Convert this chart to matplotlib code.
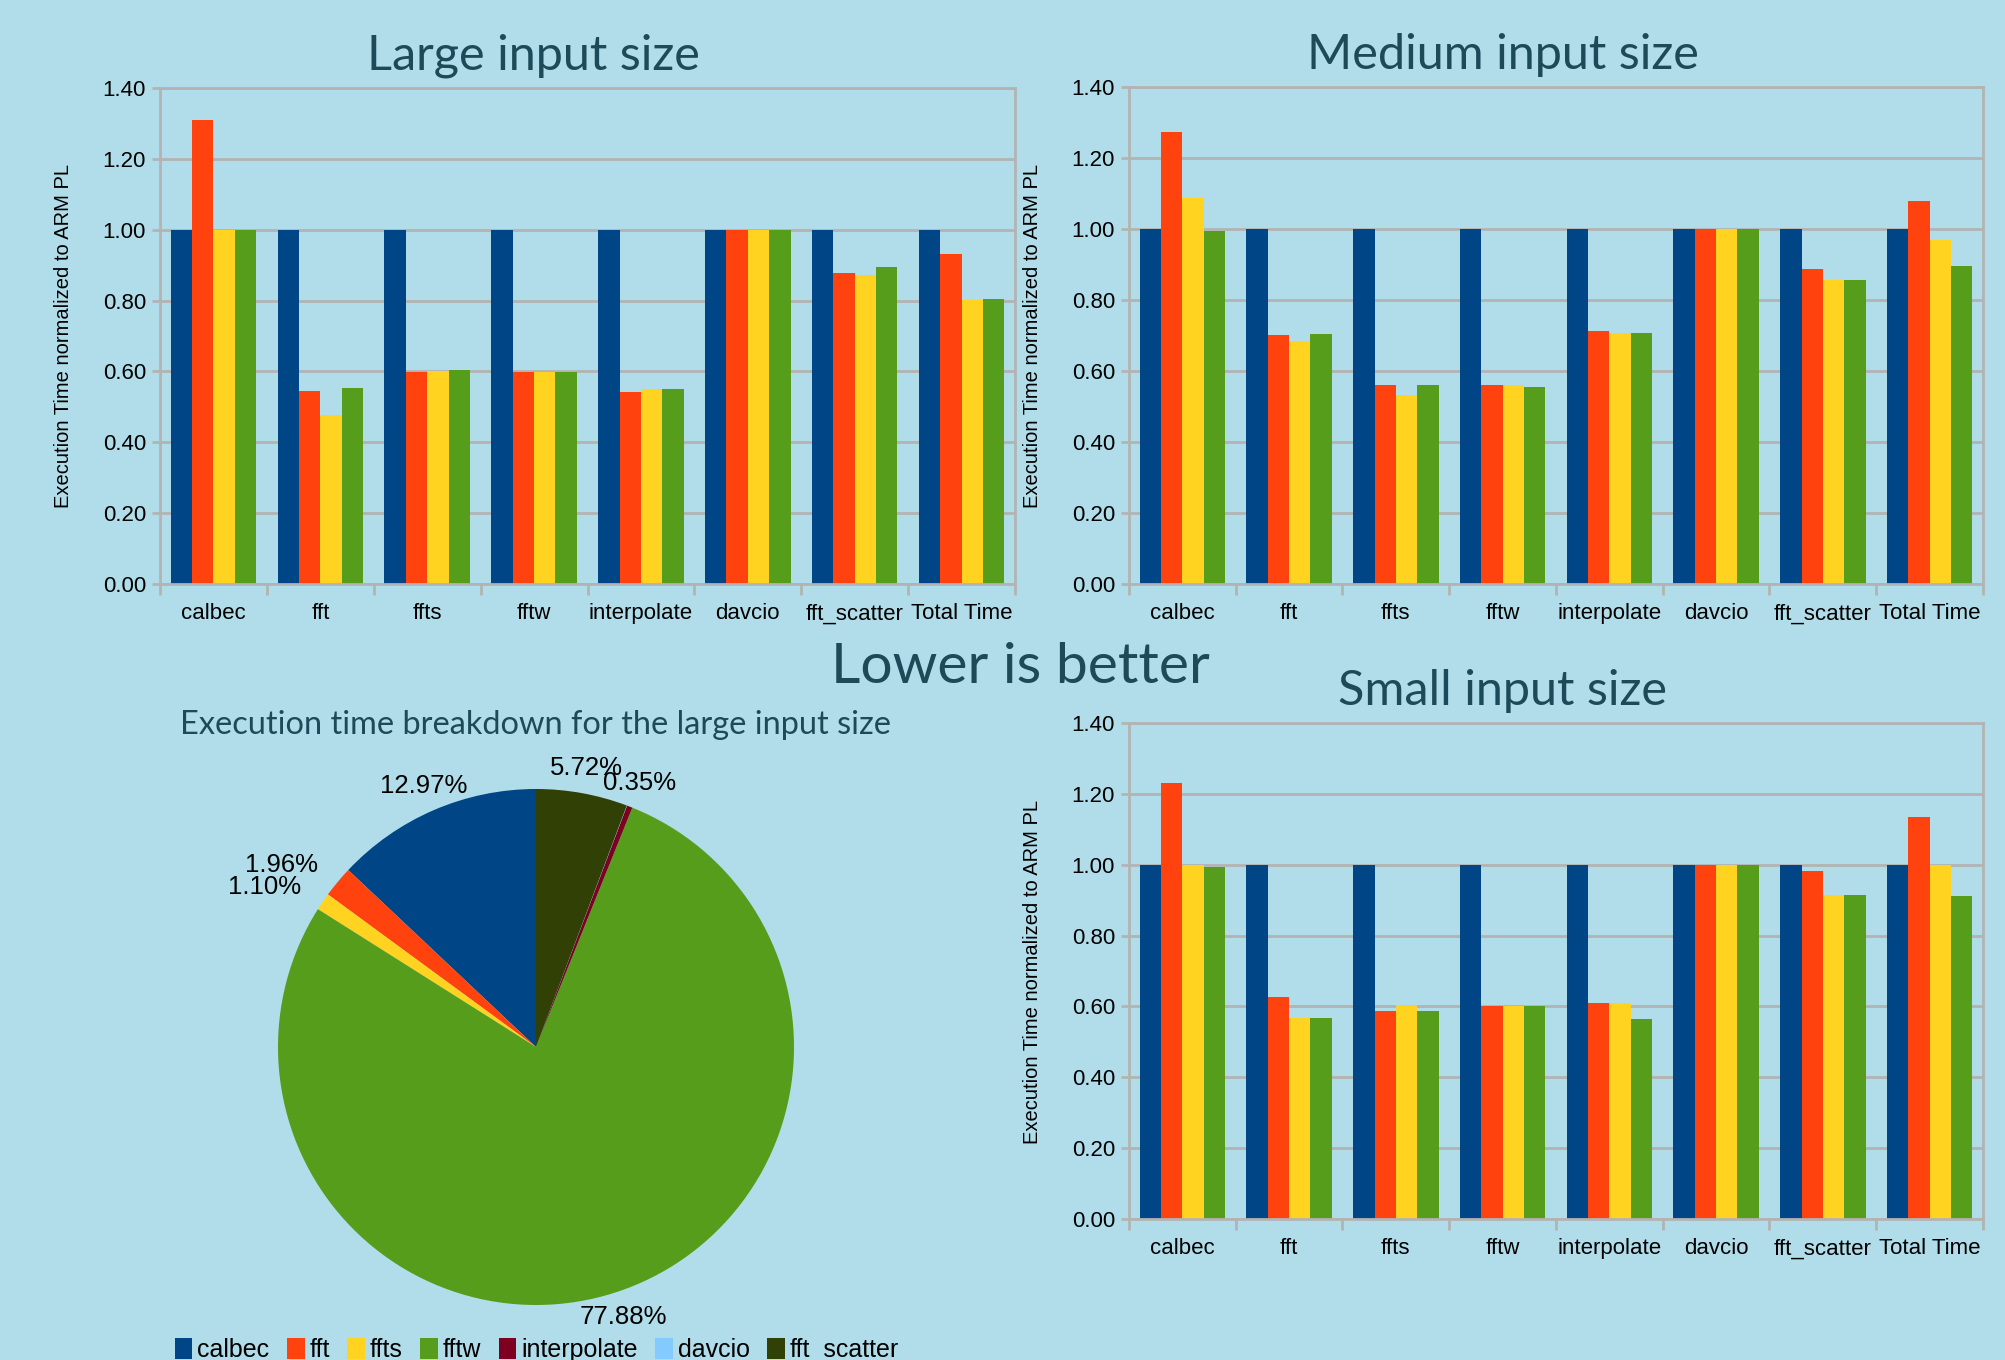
import numpy as np
import matplotlib.pyplot as plt
from matplotlib.ticker import FormatStrFormatter

categories = ["calbec", "fft", "ffts", "fftw", "interpolate", "davcio", "fft_scatter", "Total Time"]

# execution time normalized to ARM PL, four library builds per input size
large_armpl = [1.00, 1.00, 1.00, 1.00, 1.00, 1.00, 1.00, 1.00]
large_lib2 = [1.309, 0.545, 0.597, 0.597, 0.543, 1.00, 0.878, 0.932]
large_lib3 = [0.998, 0.477, 0.600, 0.599, 0.549, 1.00, 0.871, 0.802]
large_lib4 = [1.00, 0.553, 0.605, 0.597, 0.549, 1.00, 0.895, 0.804]

medium_armpl = [1.00, 1.00, 1.00, 1.00, 1.00, 1.00, 1.00, 1.00]
medium_lib2 = [1.274, 0.701, 0.561, 0.561, 0.713, 1.00, 0.888, 1.080]
medium_lib3 = [1.088, 0.685, 0.531, 0.561, 0.708, 1.00, 0.857, 0.969]
medium_lib4 = [0.995, 0.705, 0.561, 0.555, 0.707, 1.00, 0.857, 0.896]

small_armpl = [1.00, 1.00, 1.00, 1.00, 1.00, 1.00, 1.00, 1.00]
small_lib2 = [1.232, 0.627, 0.588, 0.601, 0.611, 1.00, 0.981, 1.135]
small_lib3 = [0.998, 0.568, 0.605, 0.601, 0.611, 1.00, 0.915, 0.998]
small_lib4 = [0.994, 0.568, 0.588, 0.601, 0.565, 1.00, 0.915, 0.913]

# share of total run time, large input
pie_labels = ["calbec", "fft", "ffts", "fftw", "interpolate", "davcio", "fft_scatter"]
pie_share = [12.97, 1.96, 1.10, 77.88, 0.35, 0.02, 5.72]

BG = "#b0dde9"
TITLE_C = "#1d4a58"
GRID = "#b3b3b3"
bar_colors = ["#004586", "#ff420e", "#ffd320", "#579d1c"]
pie_colors = ["#004586", "#ff420e", "#ffd320", "#579d1c", "#7e0021", "#83caff", "#314004"]

NARROW = ["Liberation Sans Narrow", "Liberation Sans", "DejaVu Sans"]
TITLE_FONT = ["Lato", "DejaVu Sans"]

W, H = 2006, 1360
fig = plt.figure(figsize=(W / 100, H / 100), dpi=100, facecolor=BG)


def px_axes(left, top, right, bottom):
    return fig.add_axes([left / W, 1 - bottom / H, (right - left) / W, (bottom - top) / H])


def bar_panel(ax, series):
    x = np.arange(len(categories)) + 0.5
    width = 0.2
    for k, (vals, c) in enumerate(zip(series, bar_colors)):
        ax.bar(x + (k - 1.5) * width, vals, width, color=c, linewidth=0, zorder=2)
    ax.set_facecolor(BG)
    ax.set_xlim(0, len(categories))
    ax.set_ylim(0, 1.4)
    ax.set_yticks(np.arange(0, 1.41, 0.2))
    ax.yaxis.set_major_formatter(FormatStrFormatter("%.2f"))
    ax.grid(axis="y", color=GRID, linewidth=2, zorder=1)
    ax.set_axisbelow(True)
    ax.set_xticks(np.arange(len(categories) + 1))
    ax.set_xticklabels([])
    ax.set_xticks(x, minor=True)
    ax.set_xticklabels(categories, minor=True, family=NARROW, fontsize=16)
    ax.tick_params(axis="x", which="minor", length=0, pad=14)
    ax.tick_params(axis="x", which="major", length=8, width=2, color=GRID)
    ax.tick_params(axis="y", length=6, width=2, color=GRID, pad=4)
    for lab in ax.get_yticklabels():
        lab.set_family(NARROW)
        lab.set_fontsize(16)
    for sp in ax.spines.values():
        sp.set_color(GRID)
        sp.set_linewidth(2)


ax_l = px_axes(160, 88, 1015, 584)
bar_panel(ax_l, [large_armpl, large_lib2, large_lib3, large_lib4])
ax_m = px_axes(1129, 87, 1983, 584)
bar_panel(ax_m, [medium_armpl, medium_lib2, medium_lib3, medium_lib4])
ax_s = px_axes(1129, 723, 1983, 1219)
bar_panel(ax_s, [small_armpl, small_lib2, small_lib3, small_lib4])

ylab = "Execution Time normalized to ARM PL"
for xpx, ypx in [(64, 336), (1032, 336), (1032, 972)]:
    fig.text(xpx / W, 1 - ypx / H, ylab, rotation=90, ha="center", va="center",
             family=["Liberation Sans", "DejaVu Sans"], fontsize=14.5)

# pie of the large-input breakdown
ax_p = px_axes(278, 789, 794, 1305)
wedges, _ = ax_p.pie(pie_share, colors=pie_colors, startangle=90, counterclock=True,
                     wedgeprops=dict(linewidth=0))
ax_p.set_xlim(-1, 1)
ax_p.set_ylim(-1, 1)
for w, v in zip(wedges, pie_share):
    if v < 0.1:
        continue
    ang = np.deg2rad((w.theta1 + w.theta2) / 2)
    c, s = np.cos(ang), np.sin(ang)
    ha = "center" if abs(c) < 0.4 else ("left" if c > 0 else "right")
    ax_p.text(1.1 * c, 1.1 * s, f"{v:.2f}%", ha=ha, va="center", fontsize=18.5,
              family=NARROW, clip_on=False)

fig.legend(wedges, pie_labels, loc="center", bbox_to_anchor=(537 / W, 1 - 1350 / H),
           ncol=7, frameon=False, handlelength=0.7, handleheight=0.9, handletextpad=0.2,
           columnspacing=0.7, prop=dict(family=NARROW, size=18))

# titles
fig.text(533 / W, 1 - 69 / H, "Large input size", ha="center", va="baseline",
         family=TITLE_FONT, fontsize=35, color=TITLE_C)
fig.text(1503 / W, 1 - 69 / H, "Medium input size", ha="center", va="baseline",
         family=TITLE_FONT, fontsize=35, color=TITLE_C)
fig.text(1503 / W, 1 - 705 / H, "Small input size", ha="center", va="baseline",
         family=TITLE_FONT, fontsize=35, color=TITLE_C)
fig.text(1020 / W, 1 - 683 / H, "Lower is better", ha="center", va="baseline",
         family=TITLE_FONT, fontsize=41, color=TITLE_C)
fig.text(536 / W, 1 - 734 / H, "Execution time breakdown for the large input size",
         ha="center", va="baseline", family=TITLE_FONT, fontsize=23.4, color=TITLE_C)

fig.savefig("out.png", dpi=100, facecolor=BG)
